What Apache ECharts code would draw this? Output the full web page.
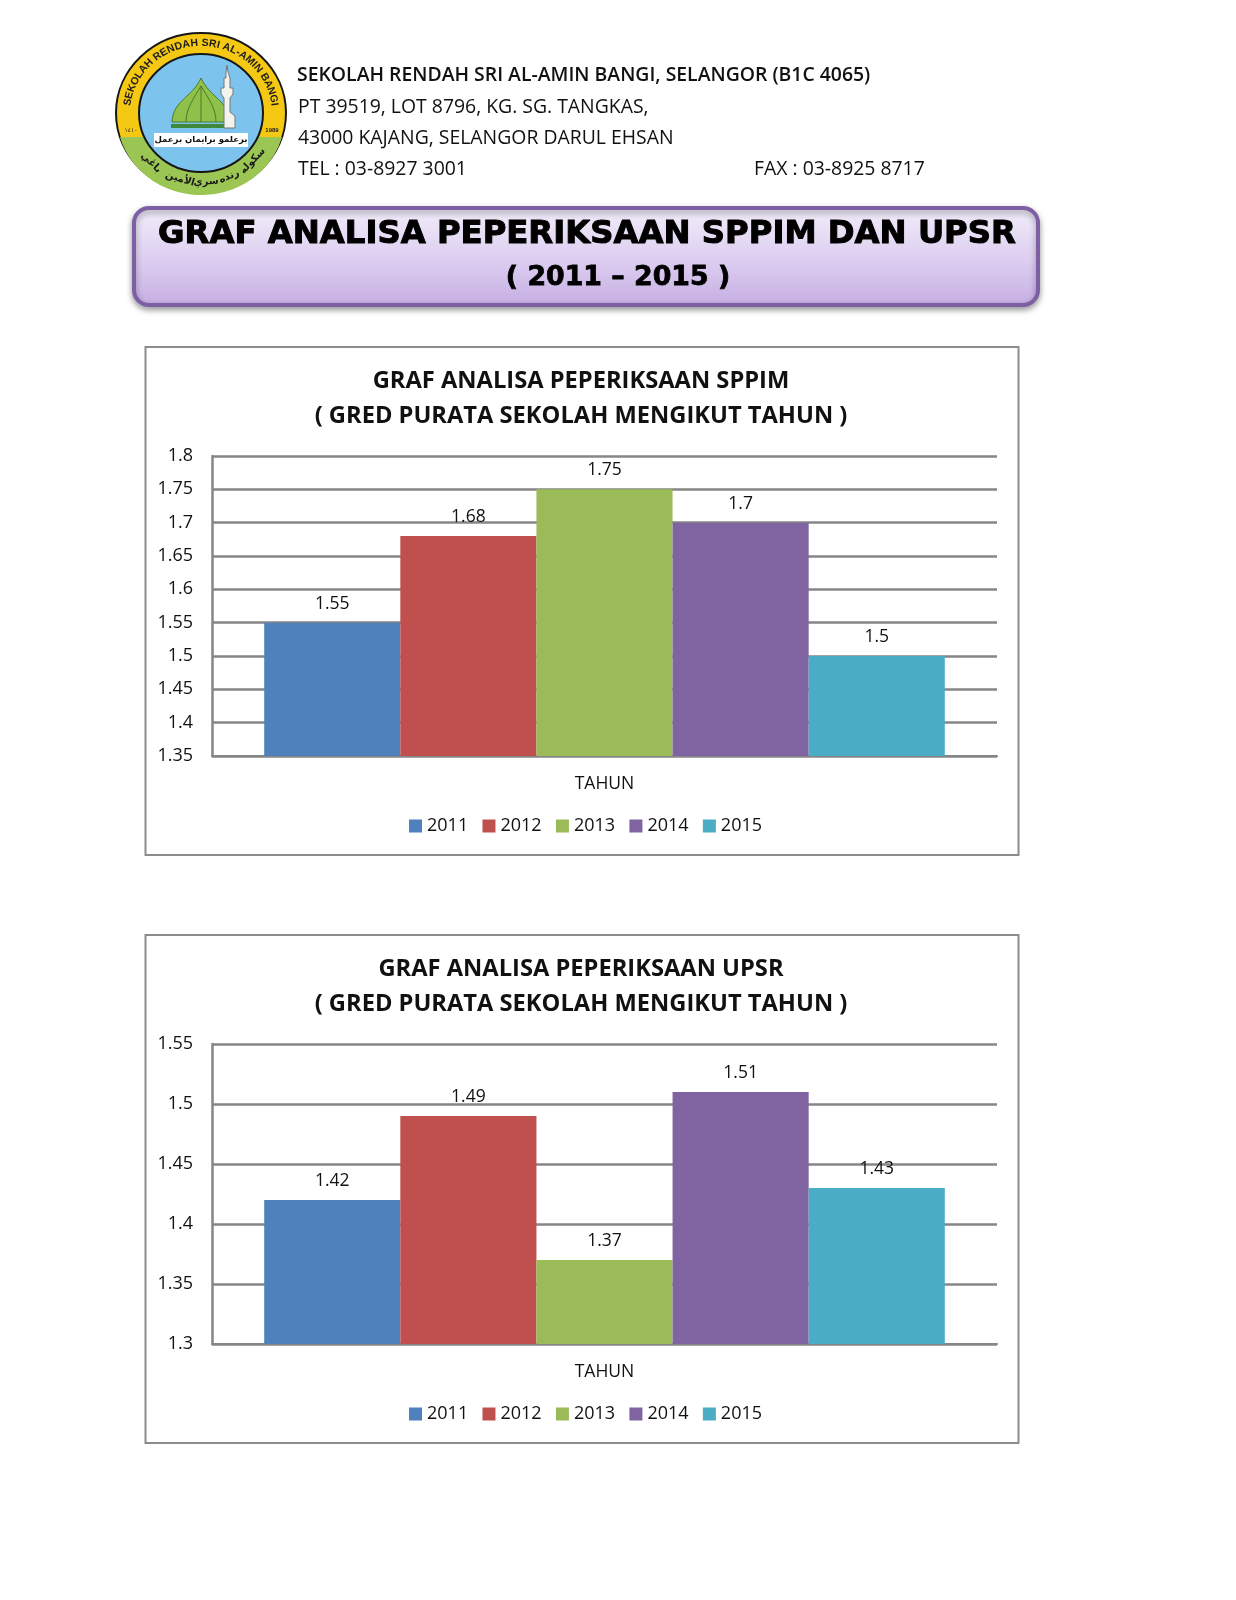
<!DOCTYPE html>
<html><head><meta charset="utf-8">
<style>html,body{margin:0;padding:0;background:#fff}#c{width:1236px;height:1600px}</style>
<script src="https://cdn.jsdelivr.net/npm/echarts@6/dist/echarts.min.js"></script>
</head><body><div id="c"></div>
<script>
const years = ['2011','2012','2013','2014','2015'];
const categories = ['TAHUN'];
const sppimValues = [1.55,1.68,1.75,1.7,1.5];
const upsrValues = [1.42,1.49,1.37,1.51,1.43];
const colors = ['#4f81bd','#c0504d','#9bbb59','#8064a2','#4bacc6'];
const schoolLines = ['PT 39519, LOT 8796, KG. SG. TANGKAS,','43000 KAJANG, SELANGOR DARUL EHSAN','TEL : 03-8927 3001'];
const font = '"Open Sans", sans-serif';
const chart = echarts.init(document.getElementById('c'), null, {renderer:'canvas'});

function regPath(name,data){echarts.graphic.registerShape(name,echarts.graphic.extendPath(data,{}));}
regPath('logoGreen','M120 137 A84 79 0 0 0 282 137 Z');
regPath('logoDome','M172 122 C173 100 192 98 201 78 C210 98 229 100 229 122 Z');
regPath('logoRibs','M186 122 C186 108 194 98 201 86 M201 86 L201 122 M216 122 C216 108 208 98 201 86');
regPath('logoMinaret','M224 128 L224 98 L221 94 L221 88 L224 88 L224 78 L226 78 L226 72 L227 65 L228 72 L230 78 L230 88 L233 88 L233 94 L230 98 L230 112 L235 116 L235 128 Z');

function txt(text,x,y,size,weight,align,extra){
  return {type:'text',x,y,z:5,style:Object.assign({text,fontFamily:font,fontSize:size,fontWeight:weight||'normal',fill:'#111',align:align||'left',verticalAlign:'middle'},extra||{})};
}
const measure = document.createElement('canvas').getContext('2d');
function arcChars(str,cx,cy,rx,ry,from,to,size){
  measure.font='bold '+size+'px "Liberation Sans"';
  const widths=[...str].map(c=>measure.measureText(c).width);
  const total=widths.reduce((a,b)=>a+b,0);
  let acc=0;const out=[];
  [...str].forEach((c,i)=>{
    const t=(acc+widths[i]/2)/total;acc+=widths[i];
    const a=(from+(to-from)*t)*Math.PI/180;
    out.push({type:'text',x:cx+rx*Math.sin(a),y:cy-ry*Math.cos(a),rotation:-a,z:7,
      style:{text:c,fontFamily:'"Liberation Sans"',fontWeight:'bold',fontSize:size,fill:'#1d1d1d',align:'center',verticalAlign:'middle'}});
  });
  return out;
}
const cx=201,cy=113;
const logo=[
 {type:'ellipse',shape:{cx,cy,rx:85,ry:80},z:3,style:{fill:'#f5c814',stroke:'#161616',lineWidth:2}},
 {type:'logoGreen',z:3,style:{fill:'#9cc653'}},
 {type:'ellipse',shape:{cx,cy,rx:62,ry:59},z:4,style:{fill:'#7cc4ee',stroke:'#161616',lineWidth:2}},
 {type:'logoDome',z:5,style:{fill:'#8fc04a',stroke:'#4d7a28',lineWidth:1}},
 {type:'logoRibs',z:6,style:{fill:'none',stroke:'#4d7a28',lineWidth:1}},
 {type:'rect',shape:{x:171,y:124,width:58,height:4},z:6,style:{fill:'#3f8a3a'}},
 {type:'logoMinaret',z:6,style:{fill:'#f3f3ee',stroke:'#777',lineWidth:1}},
 {type:'rect',shape:{x:154,y:133,width:94,height:14},z:6,style:{fill:'#fff'}},
 {type:'text',x:201,y:140,z:7,style:{text:'برعلمو برايمان برعمل',fontFamily:'"DejaVu Sans"',fontWeight:'bold',fontSize:8.5,fill:'#111',align:'center',verticalAlign:'middle'}},
 {type:'text',x:131,y:130,z:7,style:{text:'١٤١٠',fontFamily:'"DejaVu Sans"',fontSize:6,fill:'#222',align:'center',verticalAlign:'middle'}},
 {type:'text',x:272,y:130,z:7,style:{text:'1989',fontFamily:'"Liberation Sans"',fontSize:6,fontWeight:'bold',fill:'#222',align:'center',verticalAlign:'middle'}},
 ...arcChars('SEKOLAH RENDAH SRI AL-AMIN BANGI',cx,cy,74,70,-84,84,10.5)
];
const arabicWords=['سكوله','رنده','سري','الأمين','باڠي'];
const arabicAngles=[134,157,176,197,224];
arabicWords.forEach((w,i)=>{
  const a=arabicAngles[i]*Math.PI/180;
  logo.push({type:'text',x:cx+72*Math.sin(a),y:cy-69*Math.cos(a),rotation:Math.PI-a,z:7,
    style:{text:w,fontFamily:'"DejaVu Sans"',fontWeight:'bold',fontSize:10,fill:'#1a1a1a',align:'center',verticalAlign:'middle'}});
});
const frame=(y,h)=>({type:'rect',shape:{x:145.5,y,width:873,height:h},z:0,style:{fill:'#fff',stroke:'#8c8c8c',lineWidth:2}});
const graphics=[
 ...logo,
 txt('SEKOLAH RENDAH SRI AL-AMIN BANGI, SELANGOR (B1C 4065)',297,75,19.4,'600'),
 txt(schoolLines[0],298,107,19.4),
 txt(schoolLines[1],298,138,19.4),
 txt(schoolLines[2],298,169,19.4),
 txt('FAX : 03-8925 8717',754,169,19.4),
 {type:'rect',shape:{x:134,y:208,width:904,height:97,r:15},z:2,
  style:{stroke:'#7d5fa3',lineWidth:4,shadowBlur:6,shadowOffsetY:3,shadowColor:'rgba(0,0,0,.35)',
   fill:new echarts.graphic.LinearGradient(0,0,0,1,[{offset:0,color:'#f2eefa'},{offset:.55,color:'#dccdf0'},{offset:1,color:'#c5ade2'}])}},
 txt('GRAF ANALISA PEPERIKSAAN SPPIM DAN UPSR',587,235,32.3,'bold','center',{fontFamily:'"DejaVu Sans"',fill:'#000',stroke:'#000',lineWidth:1}),
 txt('( 2011 – 2015 )',618,278,26.8,'bold','center',{fontFamily:'"DejaVu Sans"',fill:'#000',stroke:'#000',lineWidth:0.8}),
 frame(347,508),
 frame(935,508),
 txt('GRAF ANALISA PEPERIKSAAN SPPIM',581,381,23.7,'bold','center'),
 txt('( GRED PURATA SEKOLAH MENGIKUT TAHUN )',581,416,23.7,'bold','center'),
 txt('GRAF ANALISA PEPERIKSAAN UPSR',581,969,23.7,'bold','center'),
 txt('( GRED PURATA SEKOLAH MENGIKUT TAHUN )',581,1004,23.7,'bold','center')
];
function xAxis(i){return {type:'category',gridIndex:i,data:categories,
  axisLine:{show:true,lineStyle:{color:'#868686',width:2}},axisTick:{show:false},
  axisLabel:{color:'#111',fontFamily:font,fontSize:17.5,margin:19}};}
function yAxis(i,min,max){return {type:'value',gridIndex:i,min,max,interval:0.05,
  axisLine:{show:true,lineStyle:{color:'#868686',width:2.5}},axisTick:{show:false},
  splitLine:{show:true,lineStyle:{color:'#868686',width:2.5}},
  axisLabel:{color:'#111',fontFamily:font,fontSize:18,margin:19,padding:[2,0,0,0],formatter:v=>String(+v.toFixed(2))}};}
function seriesFor(values,i){return years.map((y,k)=>({
  name:y,type:'bar',xAxisIndex:i,yAxisIndex:i,data:[values[k]],barGap:0,barCategoryGap:'13.3%',
  itemStyle:{color:colors[k]},animation:false,
  label:{show:true,position:'top',distance:10,color:'#111',fontFamily:font,fontSize:17.5}}));}
function legend(top){return {top,left:409,itemWidth:13,itemHeight:13,itemGap:14.3,data:years,icon:'rect',
  selectedMode:false,textStyle:{color:'#111',fontFamily:font,fontSize:18},padding:0};}
chart.setOption({
 animation:false,backgroundColor:'#fff',color:colors,
 grid:[{left:212,width:785,top:456,height:300},{left:212,width:785,top:1044,height:300}],
 xAxis:[xAxis(0),xAxis(1)],
 yAxis:[yAxis(0,1.35,1.8),yAxis(1,1.3,1.55)],
 legend:[legend(817),legend(1405)],
 series:[...seriesFor(sppimValues,0),...seriesFor(upsrValues,1)],
 graphic:{elements:graphics}
});
</script></body></html>
